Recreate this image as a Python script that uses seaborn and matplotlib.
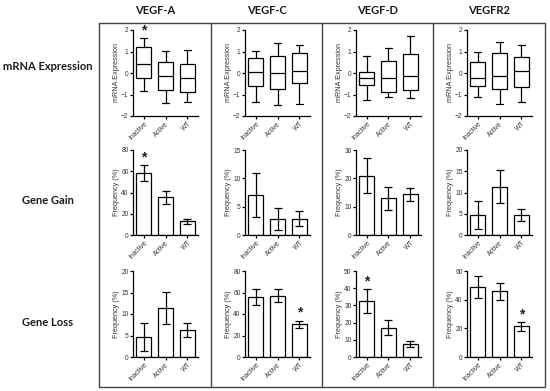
import numpy as np
import pandas as pd
import matplotlib.pyplot as plt
import seaborn as sns
from matplotlib.lines import Line2D

# ---- data ----
genes = ["VEGF-A", "VEGF-C", "VEGF-D", "VEGFR2"]
groups = ["Inactive", "Active", "WT"]
row_labels = ["mRNA Expression", "Gene Gain", "Gene Loss"]

# five-number summaries per group: min, Q1, median, Q3, max
mrna_vegfa = [[-0.84, -0.25, 0.42, 1.19, 1.61], [-1.38, -0.78, -0.14, 0.50, 1.02], [-1.33, -0.90, -0.22, 0.42, 1.07]]
mrna_vegfc = [[-1.34, -0.61, 0.05, 0.69, 1.02], [-1.51, -0.76, 0.00, 0.80, 1.40], [-1.42, -0.47, 0.08, 0.91, 1.32]]
mrna_vegfd = [[-1.24, -0.58, -0.24, 0.06, 0.77], [-1.10, -0.90, -0.24, 0.58, 1.15], [-1.17, -0.79, -0.13, 0.88, 1.72]]
mrna_vegfr2 = [[-1.13, -0.62, -0.22, 0.51, 0.98], [-1.44, -0.76, -0.14, 0.92, 1.44], [-1.37, -0.65, 0.10, 0.73, 1.32]]

# frequency (%) mean and error
gain_vegfa = [58.0, 35.5, 12.8]
gain_vegfa_err = [7.5, 6.0, 2.7]
gain_vegfc = [7.0, 2.8, 2.9]
gain_vegfc_err = [3.9, 2.0, 1.3]
gain_vegfd = [21.0, 12.9, 14.3]
gain_vegfd_err = [6.3, 4.2, 2.4]
gain_vegfr2 = [4.6, 11.4, 4.7]
gain_vegfr2_err = [3.3, 3.8, 1.5]

loss_vegfa = [4.7, 11.4, 6.2]
loss_vegfa_err = [3.2, 3.8, 1.6]
loss_vegfc = [56.0, 57.0, 30.5]
loss_vegfc_err = [7.7, 6.3, 3.4]
loss_vegfd = [32.5, 17.1, 7.6]
loss_vegfd_err = [7.2, 4.5, 1.8]
loss_vegfr2 = [48.8, 45.8, 21.3]
loss_vegfr2_err = [7.6, 5.7, 3.0]

mrna_all = [mrna_vegfa, mrna_vegfc, mrna_vegfd, mrna_vegfr2]
gain_all = [(gain_vegfa, gain_vegfa_err), (gain_vegfc, gain_vegfc_err),
            (gain_vegfd, gain_vegfd_err), (gain_vegfr2, gain_vegfr2_err)]
loss_all = [(loss_vegfa, loss_vegfa_err), (loss_vegfc, loss_vegfc_err),
            (loss_vegfd, loss_vegfd_err), (loss_vegfr2, loss_vegfr2_err)]

# y-axis max and tick step per panel
gain_ylim = [(80, 20), (15, 5), (30, 10), (20, 5)]
loss_ylim = [(20, 5), (80, 20), (50, 10), (60, 20)]

# significance stars: (row, gene index, group index)
stars = [(0, 0, 0), (1, 0, 0), (2, 1, 2), (2, 2, 0), (2, 3, 2)]

# ---- figure ----
sns.set_style("ticks")
plt.rcParams["font.family"] = ["Liberation Sans", "DejaVu Sans"]
W, H = 550, 391
fig = plt.figure(figsize=(W / 100, H / 100), dpi=100)

def px_axes(left, top, right, bottom):
    return fig.add_axes([left / W, 1 - bottom / H, (right - left) / W, (bottom - top) / H])

col_left = [99, 211, 322, 433]
row_span = [(30, 116), (150, 235), (271, 357)]
txt = "#333333"
lw = 0.9

def style_axes(ax, ylabel):
    sns.despine(ax=ax)
    for s in ["left", "bottom"]:
        ax.spines[s].set_color("black")
        ax.spines[s].set_linewidth(lw)
    ax.set_xlim(-0.48, 2.48)
    ax.set_xlabel("")
    ax.set_ylabel(ylabel, fontsize=5.2, color=txt, labelpad=1)
    ax.tick_params(axis="both", length=2.2, width=lw, pad=1, labelsize=4.8,
                   labelcolor=txt, color="black")
    ax.set_xticks(range(3))
    ax.set_xticklabels(groups, rotation=45, ha="right", rotation_mode="anchor")
    ax.set_facecolor("none")

axes = {}
for gi, gene in enumerate(genes):
    L = col_left[gi]
    # mRNA boxplots
    t, b = row_span[0]
    ax = px_axes(L + 34, t, L + 99, b)
    summ = mrna_all[gi]
    df = pd.DataFrame({
        "group": np.repeat(groups, 5),
        "value": np.concatenate(summ),
    })
    sns.boxplot(data=df, x="group", y="value", order=groups, whis=(0, 100),
                width=0.66, color="white", linecolor="black", linewidth=lw,
                saturation=1, ax=ax)
    ax.set_ylim(-2, 2)
    ax.set_yticks([-2, -1, 0, 1, 2])
    style_axes(ax, "mRNA Expression")
    axes[(0, gi)] = (ax, [s[4] for s in summ])

    # bar rows
    for ri, (data_all, lims) in enumerate([(gain_all, gain_ylim), (loss_all, loss_ylim)], start=1):
        t, b = row_span[ri]
        ax = px_axes(L + 34, t, L + 99, b)
        means, errs = data_all[gi]
        bdf = pd.DataFrame({"group": groups, "freq": means})
        sns.barplot(data=bdf, x="group", y="freq", order=groups, width=0.68,
                    color="white", edgecolor="black", linewidth=lw,
                    saturation=1, errorbar=None, ax=ax)
        ax.errorbar(range(3), means, yerr=errs, fmt="none", ecolor="black",
                    elinewidth=lw, capsize=3.2, capthick=lw)
        top, step = lims[gi]
        ax.set_ylim(0, top)
        ax.set_yticks(np.arange(0, top + 0.1, step))
        style_axes(ax, "Frequency (%)")
        axes[(ri, gi)] = (ax, [m + e for m, e in zip(means, errs)])

for ri, gi, k in stars:
    ax, tops = axes[(ri, gi)]
    ax.annotate("*", (k, tops[k]), xytext=(0, 0.5), textcoords="offset points",
                ha="center", va="bottom", fontsize=10, fontweight="bold", color="#222222")

# ---- table frame ----
frame = dict(color="#444444", lw=1.0, transform=fig.transFigure)
x0, x1, y0, y1 = 99 / W, 545 / W, 1 - 23 / H, 1 - 387 / H
fig.add_artist(Line2D([x0, x1, x1, x0, x0], [y0, y0, y1, y1, y0], **frame))
for xd in [211, 322, 433]:
    fig.add_artist(Line2D([xd / W, xd / W], [y0, y1], **frame))

hfont = dict(family=["Lato", "DejaVu Sans"], fontweight="bold", fontsize=8, color="#1a1a1a")
for gi, gene in enumerate(genes):
    cx = (col_left[gi] + (col_left[gi + 1] if gi < 3 else 545)) / 2
    fig.text(cx / W, 1 - 11 / H, gene, ha="center", va="center", **hfont)

for (lab, cy) in zip(row_labels, [67, 200, 323]):
    fig.text(48 / W, 1 - cy / H, lab, ha="center", va="center", **hfont)

fig.savefig("out.png", dpi=100)
